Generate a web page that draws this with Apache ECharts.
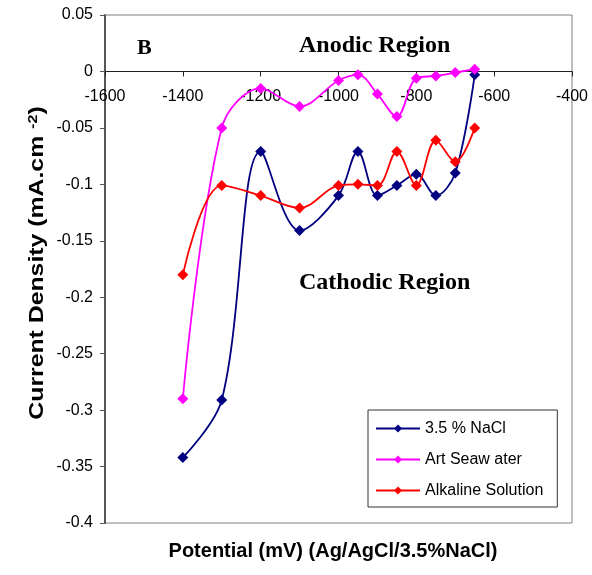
<!DOCTYPE html>
<html>
<head>
<meta charset="utf-8">
<script src="https://cdn.jsdelivr.net/npm/echarts@6/dist/echarts.min.js"></script>
<style>
  html, body { margin: 0; padding: 0; background: #fff; }
  #chart { width: 592px; height: 575px; }
</style>
</head>
<body>
<div id="chart"></div>
<script>
// potential (mV) for each measured point
var potential = [-1400, -1300, -1200, -1100, -1000, -950, -900, -850, -800, -750, -700, -650];
// current density (mA.cm-2)
var nacl = [-0.342, -0.291, -0.071, -0.141, -0.110, -0.071, -0.110, -0.101, -0.091, -0.110, -0.090, -0.003];
var seawater = [-0.290, -0.050, -0.015, -0.031, -0.008, -0.003, -0.020, -0.040, -0.006, -0.004, -0.001, 0.002];
var alkaline = [-0.180, -0.101, -0.110, -0.121, -0.101, -0.100, -0.101, -0.071, -0.101, -0.061, -0.080, -0.050];
var seriesNames = ['3.5 % NaCl', 'Art Seaw ater', 'Alkaline Solution'];
var seriesColors = ['#000080', '#ff00ff', '#ff0000'];

var yMin = -0.4, yMax = 0.05;
var gridTop = 15, gridBottom = 52, chartH = 575;

function pairs(ys) {
    return potential.map(function (x, i) { return [x, ys[i]]; });
}

var myChart = echarts.init(document.getElementById('chart'));

// labels of the x axis sit under the zero line, so shift the whole axis up to it
var plotH = chartH - gridTop - gridBottom;
var zeroOffset = plotH * (0 - yMin) / (yMax - yMin);

var lines = [nacl, seawater, alkaline].map(function (ys, i) {
    return {
        name: seriesNames[i],
        type: 'line',
        smooth: 0.35,
        symbol: 'diamond',
        symbolSize: 11,
        data: pairs(ys),
        lineStyle: { color: seriesColors[i], width: 1.8 },
        itemStyle: { color: seriesColors[i] },
        animation: false
    };
});

var option = {
    backgroundColor: '#fff',
    grid: {
        left: 105, right: 20, top: gridTop, bottom: gridBottom,
        show: true, borderColor: '#808080', borderWidth: 1
    },
    legend: {
        orient: 'vertical',
        left: 368, top: 410,
        padding: [10, 14, 8, 7],
        itemGap: 14,
        itemWidth: 44, itemHeight: 10,
        borderColor: '#333', borderWidth: 1,
        backgroundColor: '#fff',
        textStyle: { fontFamily: 'Liberation Sans', fontSize: 16, color: '#000', lineHeight: 17 },
        data: seriesNames
    },
    xAxis: {
        type: 'value',
        min: -1600, max: -400, interval: 200,
        position: 'bottom',
        offset: -zeroOffset,
        axisLine: { onZero: false, lineStyle: { color: '#222', width: 1 } },
        axisTick: { show: true, inside: false, length: 5, lineStyle: { color: '#222' } },
        axisLabel: {
            fontFamily: 'Liberation Sans', fontSize: 16, color: '#000', margin: 17,
            formatter: function (v) { return String(v); }
        },
        splitLine: { show: false }
    },
    yAxis: {
        type: 'value',
        min: yMin, max: yMax, interval: 0.05,
        axisLine: { show: true, lineStyle: { color: '#555', width: 2 } },
        axisTick: { show: true, inside: false, length: 5, lineStyle: { color: '#555' } },
        axisLabel: {
            fontFamily: 'Liberation Sans', fontSize: 16, color: '#000', margin: 12,
            formatter: function (v) { return String(Math.round(v * 100) / 100); }
        },
        splitLine: { show: false }
    },
    graphic: [
        {
            type: 'text', x: 137, y: 48,
            style: { text: 'B', font: 'bold 22px "Liberation Serif"', fill: '#000', verticalAlign: 'middle' }
        },
        {
            type: 'text', x: 299, y: 46,
            style: { text: 'Anodic Region', font: 'bold 24px "Liberation Serif"', fill: '#000', verticalAlign: 'middle' }
        },
        {
            type: 'text', x: 299, y: 283,
            style: { text: 'Cathodic Region', font: 'bold 24px "Liberation Serif"', fill: '#000', verticalAlign: 'middle' }
        },
        {
            type: 'text', x: 333, y: 551,
            style: {
                text: 'Potential (mV) (Ag/AgCl/3.5%NaCl)',
                font: 'bold 20px "Liberation Sans"', fill: '#000',
                align: 'center', verticalAlign: 'middle'
            }
        },
        {
            // the source title is stretched along its length
            type: 'text', x: 37, y: 263, rotation: Math.PI / 2, scaleX: 1.24,
            style: {
                text: '{a|Current Density (mA.cm }{s|-2}{a|)}',
                align: 'center', verticalAlign: 'middle',
                rich: {
                    a: { font: 'bold 20px "Liberation Sans"', fill: '#000', color: '#000' },
                    s: { font: 'bold 13px "Liberation Sans"', fill: '#000', color: '#000', verticalAlign: 'top', padding: [0, 0, 8, 0] }
                }
            }
        }
    ],
    series: lines
};

myChart.setOption(option);
</script>
</body>
</html>
